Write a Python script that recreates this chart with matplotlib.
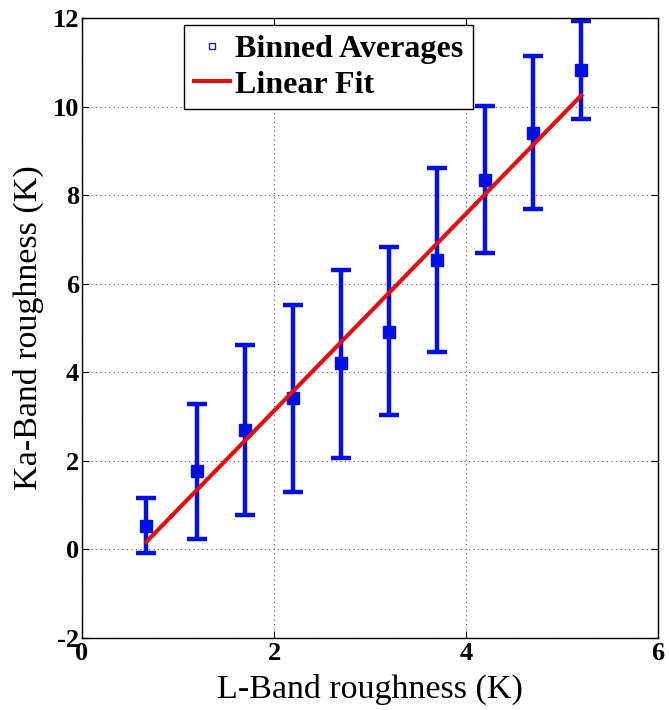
import numpy as np
import matplotlib
matplotlib.use('Agg')
import matplotlib.pyplot as plt

# Binned averages of Ka-band roughness against L-band roughness
l_band = [0.67, 1.2, 1.7, 2.2, 2.7, 3.2, 3.7, 4.2, 4.7, 5.2]
ka_mean = [0.52, 1.76, 2.70, 3.41, 4.20, 4.92, 6.53, 8.34, 9.40, 10.82]
err_low = [-0.09, 0.24, 0.77, 1.30, 2.07, 3.03, 4.45, 6.69, 7.68, 9.73]
err_high = [1.16, 3.28, 4.62, 5.53, 6.31, 6.83, 8.62, 10.01, 11.15, 11.94]

# Linear fit coefficients (slope, intercept)
fit_slope = 2.225
fit_intercept = -1.32

ka_mean = np.array(ka_mean)
yerr = [ka_mean - np.array(err_low), np.array(err_high) - ka_mean]

plt.rcParams['font.family'] = ['Liberation Serif', 'DejaVu Serif']
plt.rcParams['axes.unicode_minus'] = False

fig = plt.figure(figsize=(6.69, 7.10), dpi=100)
ax = fig.add_axes([0.1226, 0.1014, 0.861, 0.8732])

ax.errorbar(l_band, ka_mean, yerr=yerr, fmt='none', ecolor='#0010e0',
            elinewidth=3.2, capsize=7, capthick=3.2, zorder=2)
ax.plot(l_band, ka_mean, 's', color='#0010e0', markersize=8, zorder=3)

fit_x = np.array([l_band[0], l_band[-1]])
ax.plot(fit_x, fit_slope * fit_x + fit_intercept, color='#e01010', lw=3, zorder=4)

# legend proxies
h1, = ax.plot([], [], 's', markerfacecolor='white', markeredgecolor='#2020a0',
              markersize=5, markeredgewidth=1, label='Binned Averages')
h2, = ax.plot([], [], '-', color='#e01010', lw=3, label='Linear Fit')
leg = ax.legend(handles=[h1, h2], loc='upper left', bbox_to_anchor=(0.177, 0.989),
                prop={'weight': 'bold', 'size': 23}, fancybox=False, framealpha=1,
                edgecolor='black', handlelength=1.15, handletextpad=0.15,
                borderpad=0.3, labelspacing=0.2, borderaxespad=0)
leg.get_frame().set_linewidth(1.0)

ax.set_xlim(0, 6)
ax.set_ylim(-2, 12)
ax.set_xticks([0, 2, 4, 6])
ax.set_yticks(range(-2, 13, 2))
ax.grid(True, linestyle=(0, (1, 3)), color='#555555', linewidth=0.8)
ax.tick_params(direction='in', top=True, right=True, length=5, labelsize=19, pad=2)
ax.tick_params(axis='x', pad=3)
for lbl in ax.get_xticklabels() + ax.get_yticklabels():
    lbl.set_fontweight('bold')
for s in ax.spines.values():
    s.set_linewidth(1.0)

ax.set_xlabel('L-Band roughness (K)', fontsize=24.5, labelpad=6)
ax.set_ylabel('Ka-Band roughness (K)', fontsize=24.5, labelpad=6)

fig.savefig('out.png', dpi=100)
